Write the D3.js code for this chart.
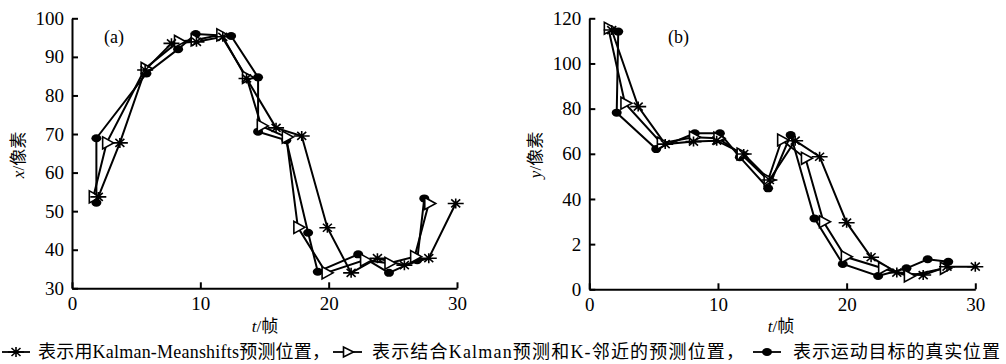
<!DOCTYPE html>
<html><head><meta charset="utf-8">
<script src="https://cdn.jsdelivr.net/npm/d3@7"></script>
<style>
body{margin:0;background:#fff;}
text{font-family:"Liberation Serif","Noto Sans CJK SC",serif;fill:#000;}
</style></head>
<body>
<svg id="c" width="1006" height="364"></svg>
<script>
// ---- data: panel (a) x position ----
const aStar = [[2.05,53.7],[3.73,67.7],[5.7,86.6],[7.75,93.5],[9.7,93.9],[11.75,95.2],[13.6,84.4],[15.9,71.6],[17.9,69.5],[19.9,45.7],[21.75,34.0],[23.8,37.8],[25.9,36.0],[27.8,37.8],[29.9,52.0]];
const aTri  = [[1.66,53.7],[2.7,67.7],[5.7,87.0],[8.3,94.0],[9.6,94.4],[11.6,95.7],[13.6,84.7],[14.75,72.1],[16.7,69.2],[17.6,45.8],[19.8,34.0],[22.8,37.3],[24.7,36.5],[26.7,38.2],[27.8,52.0]];
const aDot  = [[1.9,52.2],[1.9,68.9],[5.8,85.7],[8.27,92.0],[9.64,95.9],[12.4,95.4],[14.5,84.7],[14.5,70.6],[16.7,68.4],[18.4,44.4],[19.15,34.3],[22.3,38.8],[24.7,34.0],[26.9,37.3],[27.45,53.3]];
// ---- data: panel (b) y position ----
const bStar = [[1.74,114.8],[3.8,80.9],[5.9,64.3],[8.1,65.4],[9.9,65.8],[12.0,59.9],[14.0,48.4],[16.0,65.8],[17.9,58.7],[20.0,29.5],[21.9,14.2],[23.9,7.4],[25.95,6.3],[27.8,10.0],[30.0,10.0]];
const bTri  = [[1.48,115.6],[2.77,82.4],[5.6,64.7],[8.1,67.3],[10.0,66.9],[11.8,59.9],[13.9,48.4],[14.95,66.1],[16.8,58.0],[18.2,29.9],[19.9,14.4],[22.8,9.3],[24.8,5.9],[27.6,9.3]];
const bDot  = [[2.25,114.1],[2.13,78.2],[5.2,62.1],[8.2,69.1],[10.15,69.1],[11.7,58.5],[13.9,44.7],[15.65,68.3],[17.5,31.4],[19.7,11.2],[22.45,5.9],[24.65,9.3],[26.3,13.3],[27.9,12.2]];
// ---- ticks ----
const xTicks = [0,10,20,30];
const aYTicks = [30,40,50,60,70,80,90,100];
const bYTicks = [0,20,40,60,80,100,120];
const bYTickLabels = ["0","2","40","60","80","100","120"];
const legendTexts = ["表示用Kalman-Meanshifts预测位置，","表示结合Kalman预测和K-邻近的预测位置，","表示运动目标的真实位置"];

const svg = d3.select("#c");
const starPath = "M-8,0L8,0M0,-5L0,5M-4.5,-4L4.5,4M-4.5,4L4.5,-4";
const triPath = "M-4,-6L-4,6L7,0Z";
const triPathSmall = "M-4,-5L-4,5L6,0Z";

function drawMarkers(g, data, x, y, type, small){
  const sel = g.append("g").selectAll("*").data(data).enter();
  if(type==="star"){
    sel.append("path").attr("d",starPath).attr("transform",d=>`translate(${x(d[0])},${y(d[1])})`)
      .attr("stroke","#000").attr("stroke-width",1.6).attr("fill","none");
  } else if(type==="tri"){
    sel.append("path").attr("d",small?triPathSmall:triPath).attr("transform",d=>`translate(${x(d[0])},${y(d[1])})`)
      .attr("stroke","#000").attr("stroke-width",1.6).attr("fill","#fff");
  } else {
    sel.append("ellipse").attr("cx",d=>x(d[0])).attr("cy",d=>y(d[1])).attr("rx",5).attr("ry",4).attr("fill","#000");
  }
}

function panel(opt){
  const x = d3.scaleLinear().domain([0,30]).range(opt.xr);
  const y = d3.scaleLinear().domain(opt.yd).range(opt.yr);
  const g = svg.append("g");
  const line = d3.line().x(d=>x(d[0])).y(d=>y(d[1]));
  const series = [[opt.dot,"dot"],[opt.tri,"tri"],[opt.star,"star"]];
  series.forEach(s=>g.append("path").attr("d",line(s[0])).attr("fill","none").attr("stroke","#000").attr("stroke-width",2));
  series.forEach(s=>drawMarkers(g,s[0],x,y,s[1]));
  const ax = g.append("g").attr("transform",`translate(0,${opt.yr[0]})`)
    .call(d3.axisBottom(x).tickValues(xTicks).tickSize(-6).tickSizeOuter(0).tickPadding(8));
  const ay = g.append("g").attr("transform",`translate(${opt.xr[0]},0)`)
    .call(d3.axisLeft(y).tickValues(opt.yt).tickFormat((d,i)=>opt.yl?opt.yl[i]:d).tickSize(-6).tickSizeOuter(0).tickPadding(8));
  [ax,ay].forEach(a=>{
    a.selectAll(".domain").attr("stroke","#000").attr("stroke-width",2);
    a.selectAll(".tick line").attr("stroke","#000").attr("stroke-width",2);
    a.selectAll(".tick text").style("font-family","Liberation Serif").style("font-size","19px").attr("fill","#000");
  });
  ax.selectAll(".tick text").attr("dy","0.72em");
  g.append("text").attr("x",opt.lab[0]).attr("y",opt.lab[1]).style("font-size","18px").text(opt.name);
  const yt = g.append("text").attr("transform",`translate(${opt.yTitle[0]},${opt.yTitle[1]}) rotate(-90)`)
    .attr("text-anchor","middle").style("font-size","17px");
  yt.append("tspan").style("font-style","italic").text(opt.yv);
  yt.append("tspan").text("/像素");
  const xt = g.append("text").attr("x",opt.xTitle[0]).attr("y",opt.xTitle[1]).attr("text-anchor","middle").style("font-size","17px");
  xt.append("tspan").style("font-style","italic").text("t");
  xt.append("tspan").text("/帧");
}

panel({xr:[72,457], yd:[30,100], yr:[288.3,18.3], yt:aYTicks, dot:aDot, tri:aTri, star:aStar,
  lab:[104,43], name:"(a)", yTitle:[24,155], yv:"x", xTitle:[265,332]});
panel({xr:[589.3,975.3], yd:[0,120], yr:[289.3,18.3], yt:bYTicks, yl:bYTickLabels, dot:bDot, tri:bTri, star:bStar,
  lab:[668,43], name:"(b)", yTitle:[541,155], yv:"y", xTitle:[781,332]});

// legend
const lg = svg.append("g");
const ly = 352;
const legItems = [{x0:2,x1:30,t:"star",tx:38,tl:292},{x0:333,x1:362,t:"tri",tx:372,tl:372},{x0:753,x1:781,t:"dot",tx:793,tl:207}];
legItems.forEach((it,i)=>{
  lg.append("line").attr("x1",it.x0).attr("x2",it.x1).attr("y1",ly).attr("y2",ly).attr("stroke","#000").attr("stroke-width",1.8);
  const xs = d3.scaleLinear().domain([0,1]).range([it.x0,it.x1]);
  const ys = d3.scaleLinear().domain([0,1]).range([ly,ly]);
  drawMarkers(lg,[[0.5,0]],xs,ys,it.t,true);
  lg.append("text").attr("x",it.tx).attr("y",ly+6).style("font-size","18px")
    .attr("textLength",it.tl).attr("lengthAdjust","spacing").text(legendTexts[i]);
});
</script>
</body></html>
